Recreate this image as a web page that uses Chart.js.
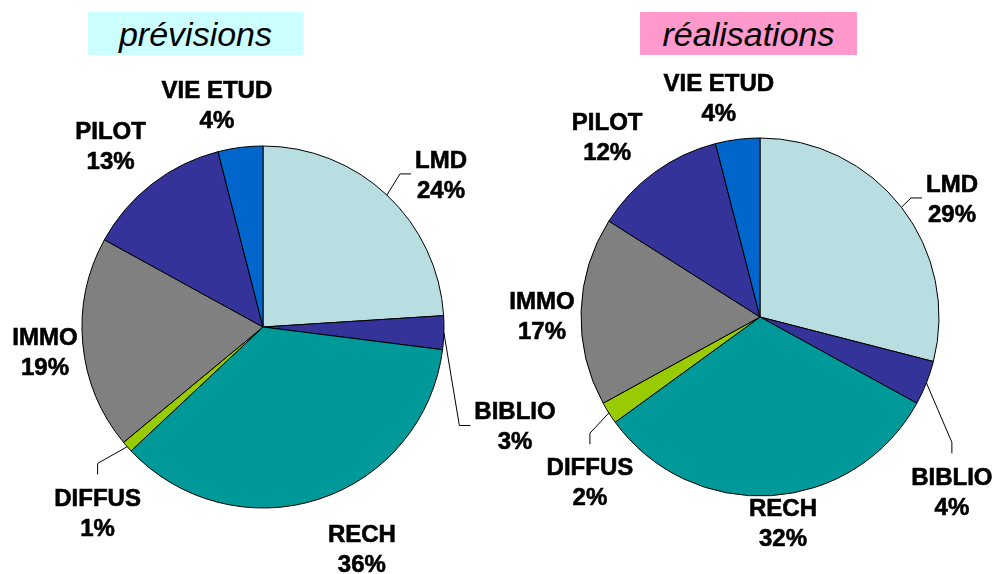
<!DOCTYPE html>
<html><head><meta charset="utf-8">
<script src="https://cdn.jsdelivr.net/npm/chart.js@4/dist/chart.umd.min.js"></script>
<style>
body{margin:0;background:#fff;width:995px;height:574px;position:relative;overflow:hidden;font-family:"Liberation Sans",Arial,sans-serif}
canvas{position:absolute;top:0;left:0}
.title{position:absolute;top:12px;height:43px;line-height:45px;font-style:italic;font-size:34px;text-align:center;color:#000;overflow:visible}
</style></head><body>
<div class="title" style="left:88px;width:215px;background:#CCFFFF">prévisions</div>
<div class="title" style="left:640px;width:217px;background:#FF99CC">réalisations</div>
<canvas id="c1" width="995" height="574"></canvas>
<canvas id="c2" width="995" height="574"></canvas>
<script>
const categories = ['LMD','BIBLIO','RECH','DIFFUS','IMMO','PILOT','VIE ETUD'];
const previsions = [24,3,36,1,19,13,4];
const realisations = [29,4,32,2,17,12,4];
const sliceColors = ['#B9DEE2','#333399','#009999','#99CC00','#808080','#333399','#0066CC'];

// label placement: [radius factor, angle shift in degrees], leader type
const labelLayoutLeft = [[1.297,6.1],[1.495,19.55],[1.338,-6.1],[1.371,-6.8],[1.212,-0.9],[1.310,-2.2],[1.255,-4.5]];
const labelLayoutRight = [[1.262,6.0],[1.447,20.6],[1.152,-2.8],[1.323,-11.7],[1.218,-1.3],[1.320,-4.3],[1.250,-3.4]];
const leadersLeft = ['h','h',null,'v',null,null,null];
const leadersRight = ['h','v',null,'v',null,null,null];

const FONT = 'bold 24px "Liberation Sans", Arial, sans-serif';
const CAP = 8.6, PITCH = 30;

function labelPlugin(layout, leaders){
  return {
    id:'pieLabels',
    afterDatasetsDraw(chart){
      const ctx = chart.ctx;
      const meta = chart.getDatasetMeta(0);
      const data = chart.data.datasets[0].data;
      const total = data.reduce((a,b)=>a+b,0);
      ctx.save();
      ctx.font = FONT;
      ctx.fillStyle = '#000';
      ctx.strokeStyle = '#000';
      ctx.lineWidth = 1;
      ctx.textAlign = 'center';
      ctx.textBaseline = 'alphabetic';
      meta.data.forEach((arc,i)=>{
        const p = arc.getProps(['x','y','startAngle','endAngle','outerRadius'], true);
        const mid = (p.startAngle + p.endAngle)/2;
        const [f, dA] = layout[i];
        const a = mid + dA*Math.PI/180;
        const lx = p.x + Math.cos(a)*p.outerRadius*f;
        const ly = p.y + Math.sin(a)*p.outerRadius*f;
        const l1 = categories[i];
        const l2 = Math.round(data[i]/total*100) + '%';
        ctx.lineWidth = 0.6;
        ctx.fillText(l1, lx, ly - PITCH/2 + CAP);
        ctx.strokeText(l1, lx, ly - PITCH/2 + CAP);
        ctx.fillText(l2, lx, ly + PITCH/2 + CAP);
        ctx.strokeText(l2, lx, ly + PITCH/2 + CAP);
        ctx.lineWidth = 1;
        const type = leaders[i];
        if(type){
          const sx = p.x + Math.cos(mid)*p.outerRadius;
          const sy = p.y + Math.sin(mid)*p.outerRadius;
          let ex, ey, bx, by;
          if(type === 'h'){
            const w = ctx.measureText(l1).width;
            ex = lx - w/2 - 4; ey = ly;
            bx = ex - 11; by = ey;
          } else {
            ex = lx; ey = ly - PITCH/2 - CAP - 14;
            bx = ex; by = ey - 11;
          }
          ctx.beginPath();
          ctx.moveTo(sx, sy);
          ctx.lineTo(bx, by);
          ctx.lineTo(ex, ey);
          ctx.stroke();
        }
      });
      ctx.restore();
    }
  };
}

function makePie(id, values, padding, layout, leaders){
  return new Chart(document.getElementById(id), {
    type:'pie',
    data:{ labels:categories, datasets:[{ data:values, backgroundColor:sliceColors, borderColor:'#000', borderWidth:1 }]},
    options:{
      responsive:false, animation:false,
      layout:{ padding },
      plugins:{ legend:{display:false}, tooltip:{enabled:false} }
    },
    plugins:[labelPlugin(layout, leaders)]
  });
}

makePie('c1', previsions, {left:81.5, right:550.5, top:145.5, bottom:65.5}, labelLayoutLeft, leadersLeft);
makePie('c2', realisations, {left:580.5, right:55.5, top:137.5, bottom:77.5}, labelLayoutRight, leadersRight);
</script>
</body></html>
